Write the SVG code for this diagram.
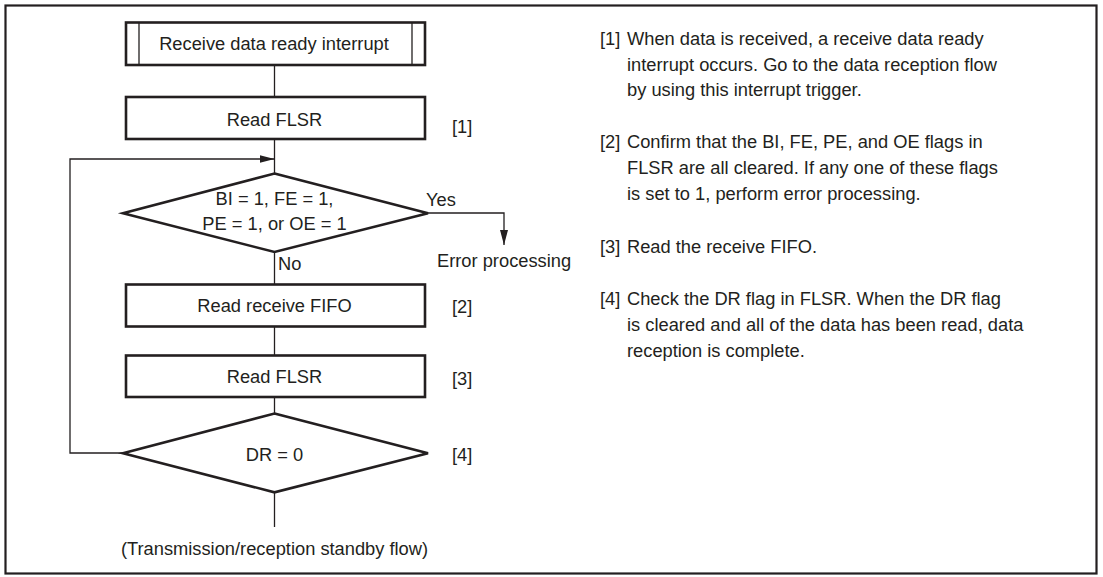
<svg xmlns="http://www.w3.org/2000/svg" width="1103" height="577" viewBox="0 0 1103 577">
<defs>
<marker id="arr" viewBox="0 0 15 10" refX="15" refY="5" markerWidth="15" markerHeight="10" markerUnits="userSpaceOnUse" orient="auto"><path d="M0,1 L15,5 L0,9 Z" fill="#231f20"/></marker>
</defs>
<style>
text{font-family:"Liberation Sans",Arial,sans-serif;font-size:18.3px;fill:#231f20}
.c{text-anchor:middle}
.box{fill:#fff;stroke:#231f20;stroke-width:2.6}
.ln{fill:none;stroke:#231f20;stroke-width:1.3}
</style>
<rect x="5.5" y="5.5" width="1091" height="568" fill="#fff" stroke="#231f20" stroke-width="2.2"/>
<g id="connectors">
<line class="ln" x1="274.5" y1="65" x2="274.5" y2="97"/>
<line class="ln" x1="274.5" y1="139" x2="274.5" y2="173"/>
<polyline class="ln" points="123,453 70,453 70,159 274.5,159" marker-end="url(#arr)"/>
<polyline class="ln" points="428,213 504,213 504,245" marker-end="url(#arr)"/>
<line class="ln" x1="274.5" y1="252" x2="274.5" y2="284"/>
<line class="ln" x1="274.5" y1="326" x2="274.5" y2="355"/>
<line class="ln" x1="274.5" y1="397" x2="274.5" y2="413"/>
<line class="ln" x1="274.5" y1="492" x2="274.5" y2="527"/>
<text x="426" y="206">Yes</text>
<text x="278" y="270">No</text>
</g>
<g id="n0">
<rect class="box" x="126" y="22.5" width="299" height="42.5"/>
<line class="ln" x1="139" y1="22.5" x2="139" y2="65" stroke-width="2.2"/>
<line class="ln" x1="412" y1="22.5" x2="412" y2="65" stroke-width="2.2"/>
<text class="c" x="274" y="50">Receive data ready interrupt</text>
</g>
<g id="n1">
<rect class="box" x="126" y="97" width="299" height="42"/>
<text class="c" x="274.5" y="125.5">Read FLSR</text>
<text x="452" y="133">[1]</text>
</g>
<g id="n2">
<polygon class="box" points="274.5,173.5 428,213.3 274.5,252 123,213.3"/>
<text class="c" x="274.5" y="205">BI = 1, FE = 1,</text>
<text class="c" x="274.5" y="230">PE = 1, or OE = 1</text>
</g>
<g id="n3">
<text x="437" y="267">Error processing</text>
</g>
<g id="n4">
<rect class="box" x="126" y="284.5" width="299" height="42"/>
<text class="c" x="274.5" y="312">Read receive FIFO</text>
<text x="452" y="313">[2]</text>
</g>
<g id="n5">
<rect class="box" x="126" y="355.5" width="299" height="41.5"/>
<text class="c" x="274.5" y="383">Read FLSR</text>
<text x="452" y="385">[3]</text>
</g>
<g id="n6">
<polygon class="box" points="274.5,413.5 428,453.3 274.5,492.3 123,453.3"/>
<text class="c" x="274.5" y="461">DR = 0</text>
<text x="452" y="461">[4]</text>
</g>
<g id="n7">
<text class="c" x="274.5" y="555">(Transmission/reception standby flow)</text>
</g>
<g id="notes">
<text x="600" y="45">[1]</text>
<text x="627" y="45">When data is received, a receive data ready</text>
<text x="627" y="70.5">interrupt occurs. Go to the data reception flow</text>
<text x="627" y="96">by using this interrupt trigger.</text>
<text x="600" y="148">[2]</text>
<text x="627" y="148">Confirm that the BI, FE, PE, and OE flags in</text>
<text x="627" y="174">FLSR are all cleared. If any one of these flags</text>
<text x="627" y="200">is set to 1, perform error processing.</text>
<text x="600" y="253">[3]</text>
<text x="627" y="253">Read the receive FIFO.</text>
<text x="600" y="305">[4]</text>
<text x="627" y="305">Check the DR flag in FLSR. When the DR flag</text>
<text x="627" y="331">is cleared and all of the data has been read, data</text>
<text x="627" y="357">reception is complete.</text>
</g>
</svg>
